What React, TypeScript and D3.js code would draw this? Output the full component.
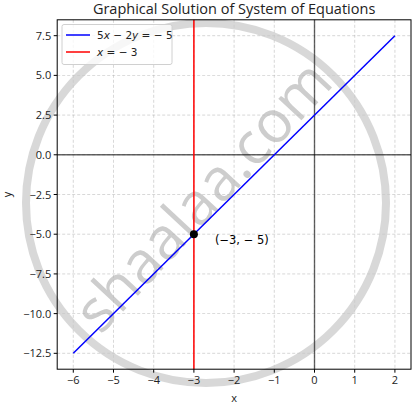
import React from "react";
import * as d3 from "d3";

const xTicks = [-6, -5, -4, -3, -2, -1, 0, 1, 2];
const yTicks = [-12.5, -10.0, -7.5, -5.0, -2.5, 0.0, 2.5, 5.0, 7.5];
const lineXs = [-6, 2];
const lineYs = [-12.5, 7.5];
const verticalX = [-3];
const solution = [{ x: -3, y: -5, label: "(−3, − 5)" }];

const W = 416, H = 409;
const L = 57.2, R = 411, T = 19.8, B = 369.2;

export default function App() {
  const x = d3.scaleLinear().domain([-6.4, 2.4]).range([L, R]);
  const y = d3.scaleLinear().domain([-13.5, 8.5]).range([B, T]);
  const line = d3.line<number>().x((_, i) => x(lineXs[i])).y((d) => y(d));
  const font = "'Open Sans', Roboto, sans-serif";
  const fmt = (v: number) => (v < 0 ? "−" : "") + Math.abs(v).toFixed(1);
  const fmtX = (v: number) => (v < 0 ? "−" : "") + Math.abs(v);
  return (
    <svg width={W} height={H} style={{ position: "absolute", left: 0, top: 0 }}>
      <rect width={W} height={H} fill="#fff" />
      <text x={(L + R) / 2} y={13.5} textAnchor="middle" fontFamily={font} fontSize={14.5} fill="#222">
        Graphical Solution of System of Equations
      </text>
      <g>
        {xTicks.map((t) => (
          <line key={"gx" + t} x1={x(t)} x2={x(t)} y1={T} y2={B} stroke="#b0b0b0" strokeDasharray="3,2" strokeWidth={0.7} opacity={0.7} />
        ))}
        {yTicks.map((t) => (
          <line key={"gy" + t} x1={L} x2={R} y1={y(t)} y2={y(t)} stroke="#b0b0b0" strokeDasharray="3,2" strokeWidth={0.7} opacity={0.7} />
        ))}
      </g>
      {/* watermark */}
      <g opacity={0.7} pointerEvents="none">
        <circle cx={206} cy={203} r={180} fill="none" stroke="#c8c8c8" strokeWidth={8} />
        <text x={0} y={0} transform="translate(218,210) rotate(-47)" textAnchor="middle" fontFamily="'Open Sans', sans-serif" fontSize={59} fill="#b8b8b8">
          shaalaa.com
        </text>
      </g>
      {/* axes through origin */}
      <line x1={x(0)} x2={x(0)} y1={T} y2={B} stroke="#000" strokeWidth={1.4} opacity={0.6} />
      <line x1={L} x2={R} y1={y(0)} y2={y(0)} stroke="#000" strokeWidth={1.4} opacity={0.6} />
      <path d={line(lineYs) || ""} fill="none" stroke="#0000ff" strokeWidth={1.5} />
      {verticalX.map((v) => (
        <line key={"v" + v} x1={x(v)} x2={x(v)} y1={T} y2={B} stroke="#ff0000" strokeWidth={1.5} />
      ))}
      {solution.map((p) => (
        <g key="pt">
          <circle cx={x(p.x)} cy={y(p.y)} r={4} fill="#000" />
          <text x={x(p.x) + 21} y={y(p.y) + 10} fontFamily="'DejaVu Sans', sans-serif" fontSize={11.5} fill="#000">
            {p.label}
          </text>
        </g>
      ))}
      <rect x={L} y={T} width={R - L} height={B - T} fill="none" stroke="#000" strokeWidth={1} />
      {xTicks.map((t) => (
        <g key={"tx" + t}>
          <line x1={x(t)} x2={x(t)} y1={B} y2={B + 3.5} stroke="#000" />
          <text x={x(t)} y={B + 15} textAnchor="middle" fontFamily={font} fontSize={11} fill="#222">{fmtX(t)}</text>
        </g>
      ))}
      {yTicks.map((t) => (
        <g key={"ty" + t}>
          <line x1={L - 3.5} x2={L} y1={y(t)} y2={y(t)} stroke="#000" />
          <text x={L - 6} y={y(t) + 4} textAnchor="end" fontFamily={font} fontSize={11} fill="#222">{fmt(t)}</text>
        </g>
      ))}
      <text x={(L + R) / 2} y={402} textAnchor="middle" fontFamily={font} fontSize={11} fill="#222">x</text>
      <text transform={`translate(11,${(T + B) / 2}) rotate(-90)`} textAnchor="middle" fontFamily={font} fontSize={11} fill="#222">y</text>
      {/* legend */}
      <g>
        <rect x={62} y={24.5} width={110} height={40} rx={2} fill="#fff" fillOpacity={0.8} stroke="#d0d0d0" />
        <line x1={66} x2={90} y1={35} y2={35} stroke="#0000ff" strokeWidth={1.5} />
        <line x1={66} x2={90} y1={52} y2={52} stroke="#ff0000" strokeWidth={1.5} />
        <text x={97} y={39} fontFamily="'DejaVu Sans', sans-serif" fontSize={10.5} fill="#222">
          5<tspan fontStyle="italic">x</tspan> − 2<tspan fontStyle="italic">y</tspan> =  − 5
        </text>
        <text x={97} y={56} fontFamily="'DejaVu Sans', sans-serif" fontSize={10.5} fill="#222">
          <tspan fontStyle="italic">x</tspan> =  − 3
        </text>
      </g>
    </svg>
  );
}
